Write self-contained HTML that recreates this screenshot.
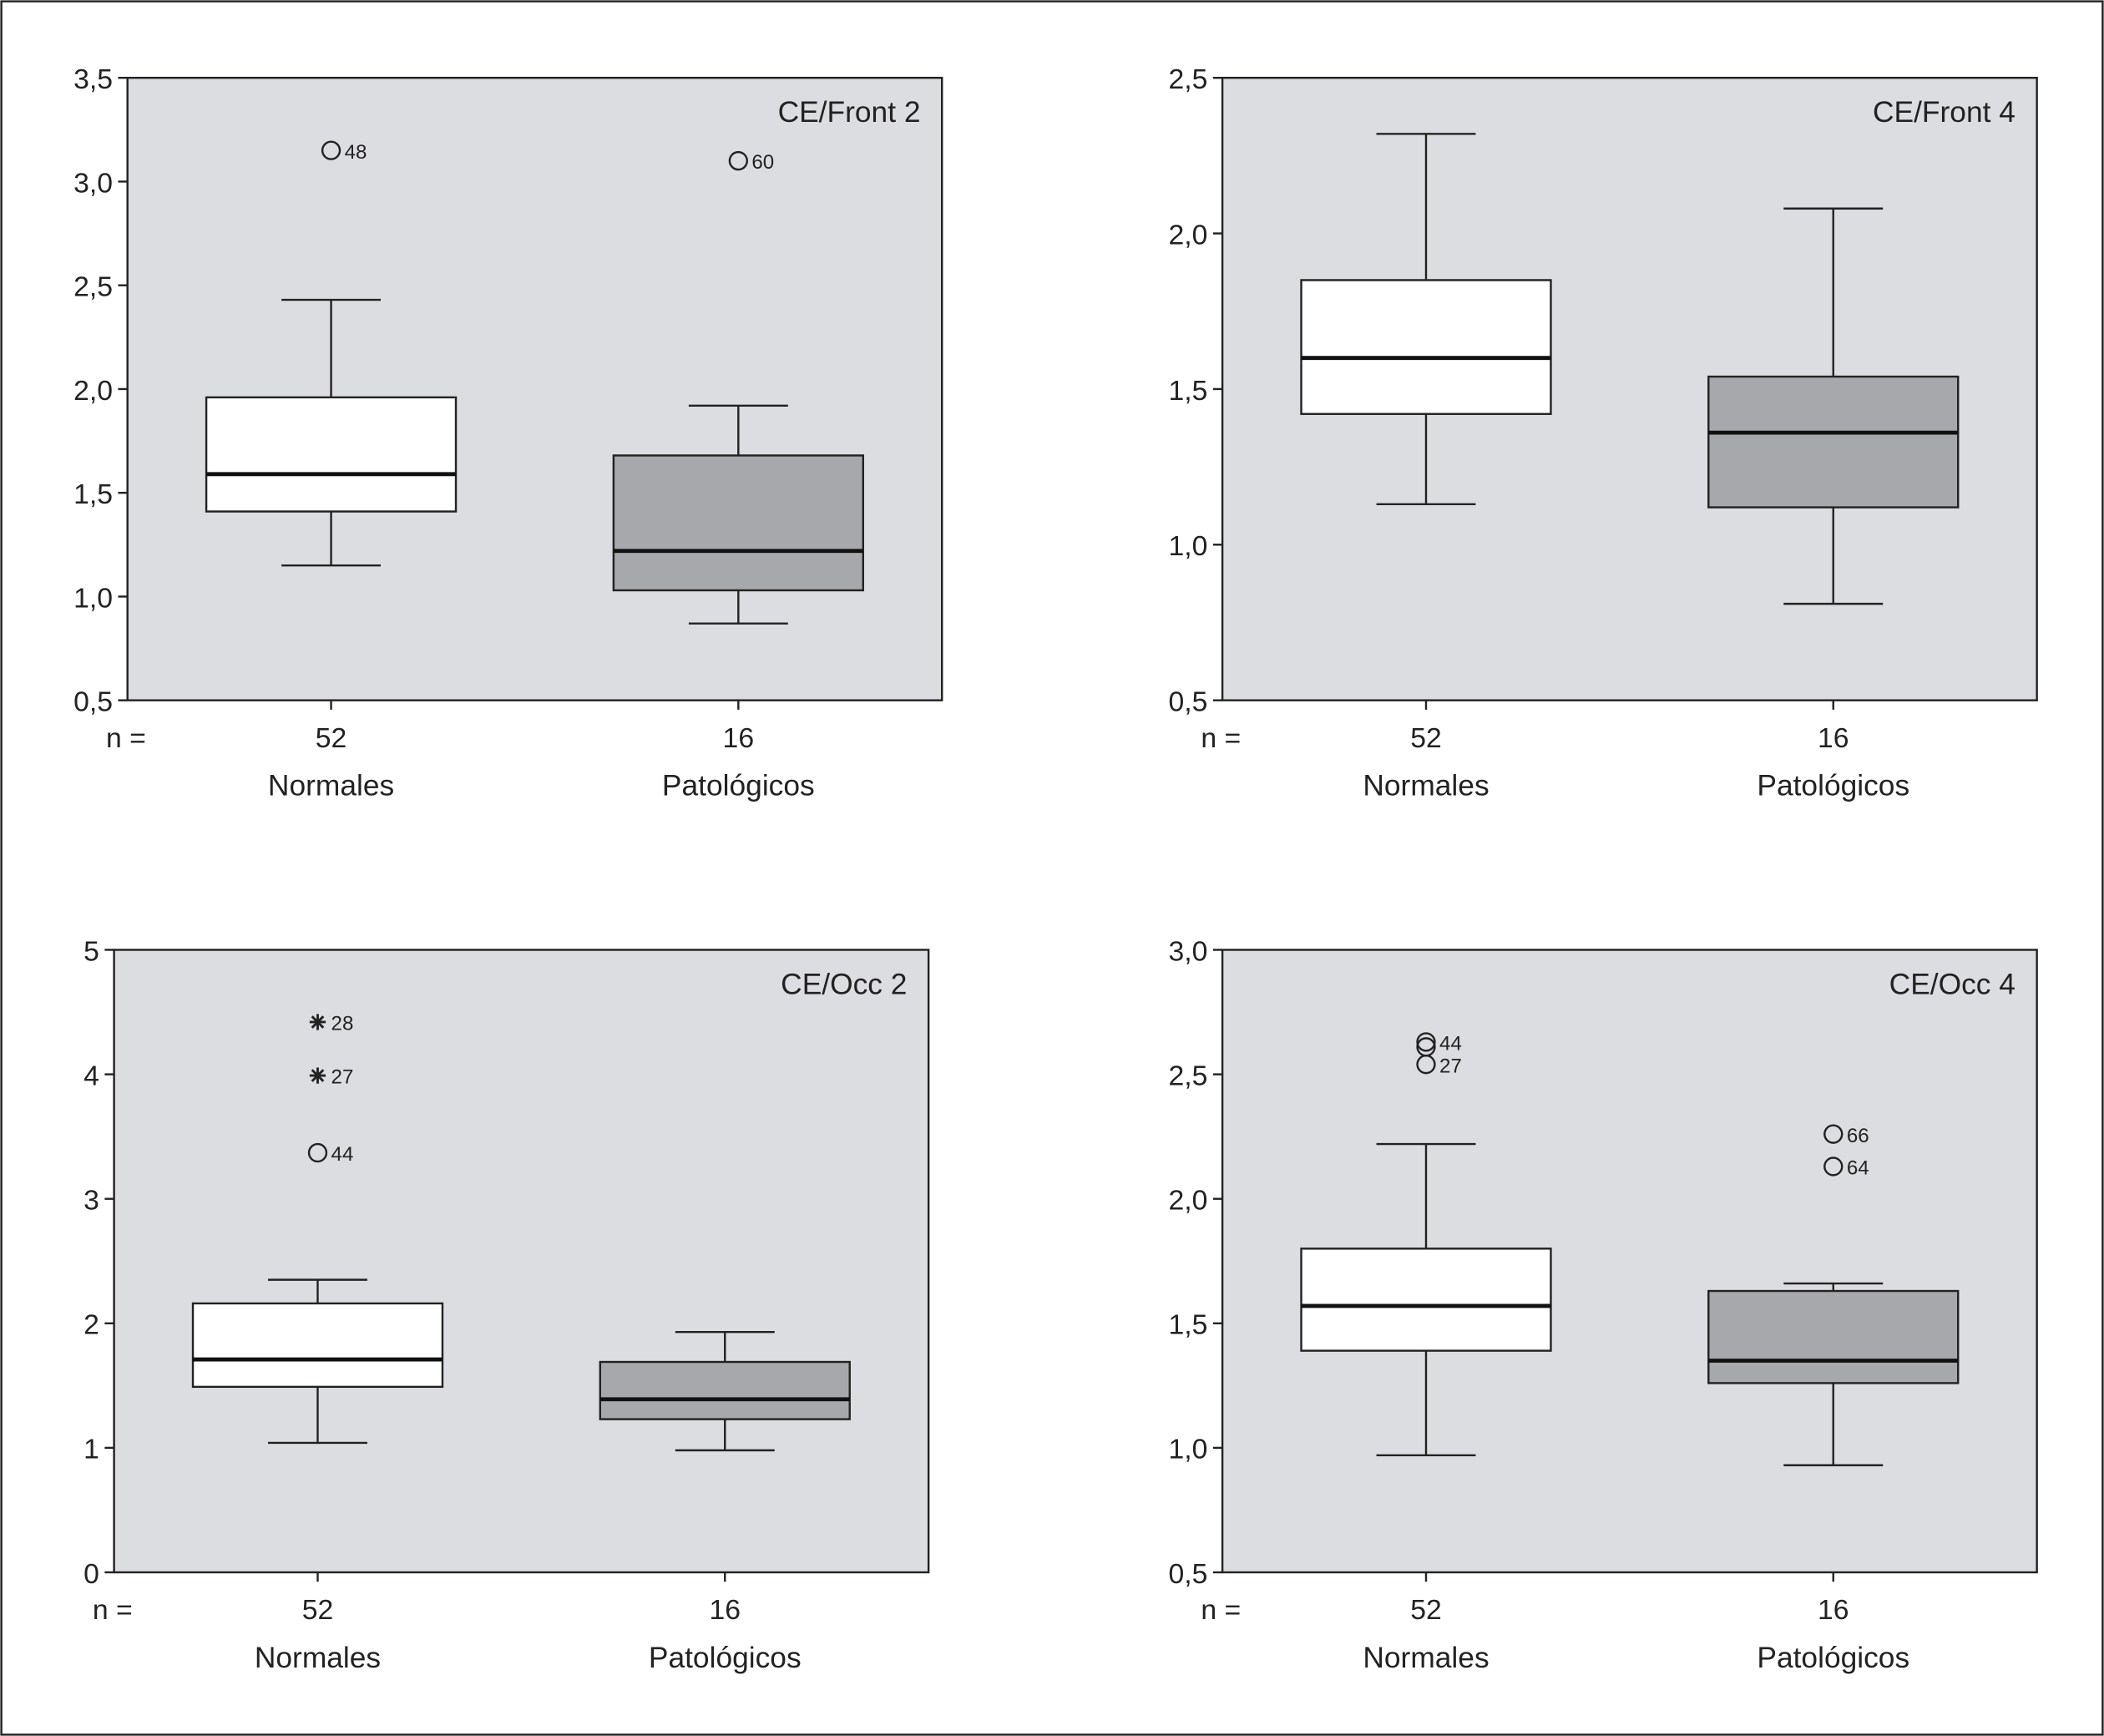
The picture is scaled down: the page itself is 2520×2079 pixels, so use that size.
<!DOCTYPE html>
<html><head><meta charset="utf-8"><style>
html,body{margin:0;padding:0;background:#fff;}
svg{display:block;font-family:"Liberation Sans",Arial,sans-serif;}
</style></head><body>
<svg id="fig" width="2520" height="2079" viewBox="0 0 1568 1294" preserveAspectRatio="none" xmlns="http://www.w3.org/2000/svg">
<rect x="1" y="1" width="1566" height="1292" fill="#fff" stroke="#222" stroke-width="1.5"/>
</svg>
<script>
const categories = ["Normales", "Patológicos"];
const counts = [52, 16];
const panelTitles = ["CE/Front 2", "CE/Front 4", "CE/Occ 2", "CE/Occ 4"];
const yMins = [0.5, 0.5, 0, 0.5];
const yMaxs = [3.5, 2.5, 5, 3.0];
const ySteps = [0.5, 0.5, 1, 0.5];
const tickDecimals = [1, 1, 0, 1];
// [lowerWhisker, Q1, median, Q3, upperWhisker] per category
const statsFront2 = [[1.15, 1.41, 1.59, 1.96, 2.43], [0.87, 1.03, 1.22, 1.68, 1.92]];
const statsFront4 = [[1.13, 1.42, 1.60, 1.85, 2.32], [0.81, 1.12, 1.36, 1.54, 2.08]];
const statsOcc2 = [[1.04, 1.49, 1.71, 2.16, 2.35], [0.98, 1.23, 1.39, 1.69, 1.93]];
const statsOcc4 = [[0.97, 1.39, 1.57, 1.80, 2.22], [0.93, 1.26, 1.35, 1.63, 1.66]];
// outliers: [categoryIndex, value, label, type]
const outFront2 = [[0, 3.15, "48", "o"], [1, 3.10, "60", "o"]];
const outFront4 = [];
const outOcc2 = [[0, 4.42, "28", "*"], [0, 3.99, "27", "*"], [0, 3.37, "44", "o"]];
const outOcc4 = [[0, 2.63, "44", "o"], [0, 2.61, "", "o"], [0, 2.54, "27", "o"], [1, 2.26, "66", "o"], [1, 2.13, "64", "o"]];

const allStats = [statsFront2, statsFront4, statsOcc2, statsOcc4];
const allOut = [outFront2, outFront4, outOcc2, outOcc4];
const layouts = [{l:95,r:702,t:58,b:522},{l:911,r:1518,t:58,b:522},{l:85,r:692,t:708,b:1172},{l:911,r:1518,t:708,b:1172}];
const fills = ["#ffffff", "#a7a8ab"];
const NS = "http://www.w3.org/2000/svg";
const svg = document.getElementById("fig");
function mk(tag, attrs, parent, txt){const e=document.createElementNS(NS,tag);for(const k in attrs)e.setAttribute(k,attrs[k]);if(txt!==undefined)e.textContent=txt;(parent||svg).appendChild(e);return e;}

layouts.forEach((L, p) => {
  const g = mk("g", {});
  
  
  const y = v => L.b - (v - yMins[p]) / (yMaxs[p] - yMins[p]) * (L.b - L.t);
  const xc = i => L.l + (L.r - L.l) * (0.25 + 0.5 * i);
  const bg = mk("rect", {x:L.l, y:L.t, width:L.r-L.l, height:L.b-L.t, fill:"#dcdde0", stroke:"#222", "stroke-width":1.5}, g);
  
  
  const tt = mk("text", {x:L.r-16, y:L.t+33, "text-anchor":"end", "font-size":22, fill:"#222"}, g, panelTitles[p]);
  
  
  const n = Math.round((yMaxs[p]-yMins[p])/ySteps[p]);
  for (let k=0;k<=n;k++){
    const v = yMins[p]+k*ySteps[p];
    mk("line",{x1:L.l-7,x2:L.l,y1:y(v),y2:y(v),stroke:"#222","stroke-width":1.5},g);
    const t = mk("text",{x:L.l-11,y:y(v)+8,"text-anchor":"end","font-size":21,fill:"#222"},g,v.toFixed(tickDecimals[p]).replace(".",","));
    
    
  }
  const nl = mk("text",{x:L.l-16,y:L.b+35,"text-anchor":"start","font-size":21,fill:"#222"},g,"n =");
  
  
  categories.forEach((c, i) => {
    const s = allStats[p][i], x = xc(i), hw = 93, cw = 37;
    mk("line",{x1:x,x2:x,y1:L.b,y2:L.b+7,stroke:"#222","stroke-width":1.5},g);
    const nt = mk("text",{x:x,y:L.b+35,"text-anchor":"middle","font-size":21,fill:"#222"},g,String(counts[i]));
    
    
    const ct = mk("text",{x:x,y:L.b+71,"text-anchor":"middle","font-size":22,fill:"#222"},g,c);
    
    
    const bx = mk("g",{},g);
    
    
    mk("line",{x1:x,x2:x,y1:y(s[0]),y2:y(s[1]),stroke:"#222","stroke-width":1.5},bx);
    mk("line",{x1:x,x2:x,y1:y(s[3]),y2:y(s[4]),stroke:"#222","stroke-width":1.5},bx);
    mk("line",{x1:x-cw,x2:x+cw,y1:y(s[0]),y2:y(s[0]),stroke:"#222","stroke-width":1.5},bx);
    mk("line",{x1:x-cw,x2:x+cw,y1:y(s[4]),y2:y(s[4]),stroke:"#222","stroke-width":1.5},bx);
    mk("rect",{x:x-hw,y:y(s[3]),width:2*hw,height:y(s[1])-y(s[3]),fill:fills[i],stroke:"#222","stroke-width":1.5},bx);
    mk("line",{x1:x-hw,x2:x+hw,y1:y(s[2]),y2:y(s[2]),stroke:"#111","stroke-width":3},bx);
  });
  allOut[p].forEach(o => {
    const x = xc(o[0]), yy = y(o[1]);
    const og = mk("g",{},g);
    
    
    if (o[3] === "o") mk("circle",{cx:x,cy:yy,r:6.5,fill:"none",stroke:"#222","stroke-width":1.5},og);
    else { for (let a=0;a<4;a++){const an=a*Math.PI/4;mk("line",{x1:x-6*Math.cos(an),y1:yy-6*Math.sin(an),x2:x+6*Math.cos(an),y2:yy+6*Math.sin(an),stroke:"#222","stroke-width":1.8},og);} }
    if (o[2]) mk("text",{x:x+10,y:yy+6,"font-size":15,fill:"#222"},og,o[2]);
  });
});
</script>
</body></html>
